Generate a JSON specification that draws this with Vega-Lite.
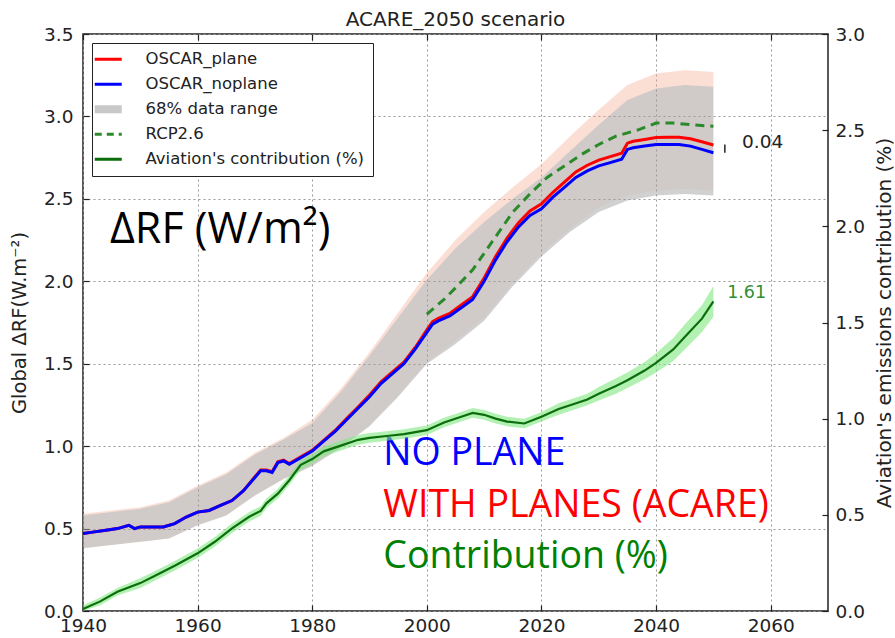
{
  "$schema": "https://vega.github.io/schema/vega-lite/v6.json",
  "width": 745,
  "height": 577,
  "autosize": "none",
  "padding": {"left": 83, "top": 34, "right": 67, "bottom": 27},
  "background": "white",
  "title": {"text": "ACARE_2050 scenario", "fontSize": 20, "font": "DejaVu Sans", "fontWeight": "normal", "color": "#222", "offset": -5, "anchor": "middle"},
  "config": {
    "view": {"stroke": "#222", "strokeWidth": 1.5},
    "font": "DejaVu Sans",
    "axis": {"domain": false, "tickSize": -6, "tickColor": "#222", "tickWidth": 1.2, "labelFlush": false, "labelFont": "DejaVu Sans", "labelFontSize": 18.5, "labelColor": "#222", "titleFont": "DejaVu Sans", "titleFontSize": 19.5, "titleFontWeight": "normal", "titleColor": "#222", "gridColor": "#999", "gridDash": [2, 3], "gridWidth": 1}
  },
  "datasets": {
    "rf": [
      {"year": 1940, "noplane": 0.47, "plane": 0.47},
      {"year": 1942, "noplane": 0.48, "plane": 0.48},
      {"year": 1944, "noplane": 0.49, "plane": 0.49},
      {"year": 1946, "noplane": 0.50, "plane": 0.50},
      {"year": 1948, "noplane": 0.52, "plane": 0.52},
      {"year": 1949, "noplane": 0.50, "plane": 0.50},
      {"year": 1950, "noplane": 0.51, "plane": 0.51},
      {"year": 1952, "noplane": 0.51, "plane": 0.51},
      {"year": 1954, "noplane": 0.51, "plane": 0.51},
      {"year": 1956, "noplane": 0.53, "plane": 0.53},
      {"year": 1958, "noplane": 0.57, "plane": 0.57},
      {"year": 1960, "noplane": 0.60, "plane": 0.60},
      {"year": 1962, "noplane": 0.61, "plane": 0.61},
      {"year": 1964, "noplane": 0.64, "plane": 0.64},
      {"year": 1966, "noplane": 0.67, "plane": 0.67},
      {"year": 1968, "noplane": 0.73, "plane": 0.73},
      {"year": 1970, "noplane": 0.81, "plane": 0.815},
      {"year": 1971, "noplane": 0.85, "plane": 0.855},
      {"year": 1972, "noplane": 0.85, "plane": 0.855},
      {"year": 1973, "noplane": 0.84, "plane": 0.845},
      {"year": 1974, "noplane": 0.9, "plane": 0.905},
      {"year": 1975, "noplane": 0.91, "plane": 0.915},
      {"year": 1976, "noplane": 0.89, "plane": 0.895},
      {"year": 1978, "noplane": 0.93, "plane": 0.935},
      {"year": 1980, "noplane": 0.97, "plane": 0.975},
      {"year": 1982, "noplane": 1.03, "plane": 1.035},
      {"year": 1984, "noplane": 1.09, "plane": 1.095},
      {"year": 1986, "noplane": 1.16, "plane": 1.167},
      {"year": 1988, "noplane": 1.23, "plane": 1.237},
      {"year": 1990, "noplane": 1.30, "plane": 1.31},
      {"year": 1992, "noplane": 1.38, "plane": 1.39},
      {"year": 1994, "noplane": 1.44, "plane": 1.45},
      {"year": 1996, "noplane": 1.50, "plane": 1.51},
      {"year": 1998, "noplane": 1.59, "plane": 1.60},
      {"year": 2000, "noplane": 1.69, "plane": 1.705},
      {"year": 2001, "noplane": 1.74, "plane": 1.755},
      {"year": 2002, "noplane": 1.76, "plane": 1.775},
      {"year": 2004, "noplane": 1.79, "plane": 1.805},
      {"year": 2006, "noplane": 1.84, "plane": 1.857},
      {"year": 2008, "noplane": 1.89, "plane": 1.907},
      {"year": 2010, "noplane": 2.00, "plane": 2.02},
      {"year": 2012, "noplane": 2.13, "plane": 2.15},
      {"year": 2014, "noplane": 2.24, "plane": 2.262},
      {"year": 2016, "noplane": 2.33, "plane": 2.355},
      {"year": 2018, "noplane": 2.40, "plane": 2.427},
      {"year": 2020, "noplane": 2.44, "plane": 2.47},
      {"year": 2022, "noplane": 2.51, "plane": 2.54},
      {"year": 2024, "noplane": 2.57, "plane": 2.602},
      {"year": 2026, "noplane": 2.63, "plane": 2.663},
      {"year": 2028, "noplane": 2.67, "plane": 2.704},
      {"year": 2030, "noplane": 2.70, "plane": 2.735},
      {"year": 2032, "noplane": 2.72, "plane": 2.756},
      {"year": 2034, "noplane": 2.74, "plane": 2.777},
      {"year": 2035, "noplane": 2.80, "plane": 2.838},
      {"year": 2036, "noplane": 2.81, "plane": 2.849},
      {"year": 2038, "noplane": 2.82, "plane": 2.86},
      {"year": 2040, "noplane": 2.83, "plane": 2.872},
      {"year": 2042, "noplane": 2.83, "plane": 2.873},
      {"year": 2044, "noplane": 2.83, "plane": 2.874},
      {"year": 2046, "noplane": 2.82, "plane": 2.865},
      {"year": 2048, "noplane": 2.80, "plane": 2.846},
      {"year": 2050, "noplane": 2.78, "plane": 2.827}
    ],
    "band": [
      {"year": 1940, "lo": 0.38, "hi": 0.58, "lop": 0.38, "hip": 0.59},
      {"year": 1945, "lo": 0.40, "hi": 0.60, "lop": 0.40, "hip": 0.61},
      {"year": 1950, "lo": 0.42, "hi": 0.62, "lop": 0.42, "hip": 0.63},
      {"year": 1955, "lo": 0.44, "hi": 0.66, "lop": 0.44, "hip": 0.67},
      {"year": 1960, "lo": 0.52, "hi": 0.75, "lop": 0.52, "hip": 0.76},
      {"year": 1965, "lo": 0.58, "hi": 0.83, "lop": 0.58, "hip": 0.84},
      {"year": 1970, "lo": 0.70, "hi": 0.95, "lop": 0.70, "hip": 0.96},
      {"year": 1975, "lo": 0.80, "hi": 1.04, "lop": 0.80, "hip": 1.05},
      {"year": 1980, "lo": 0.88, "hi": 1.14, "lop": 0.88, "hip": 1.16},
      {"year": 1985, "lo": 0.99, "hi": 1.33, "lop": 0.99, "hip": 1.35},
      {"year": 1990, "lo": 1.12, "hi": 1.55, "lop": 1.13, "hip": 1.57},
      {"year": 1995, "lo": 1.30, "hi": 1.78, "lop": 1.31, "hip": 1.81},
      {"year": 2000, "lo": 1.50, "hi": 2.01, "lop": 1.51, "hip": 2.05},
      {"year": 2005, "lo": 1.62, "hi": 2.20, "lop": 1.64, "hip": 2.25},
      {"year": 2010, "lo": 1.76, "hi": 2.36, "lop": 1.78, "hip": 2.42},
      {"year": 2015, "lo": 1.97, "hi": 2.50, "lop": 1.99, "hip": 2.57},
      {"year": 2020, "lo": 2.15, "hi": 2.63, "lop": 2.17, "hip": 2.71},
      {"year": 2025, "lo": 2.30, "hi": 2.79, "lop": 2.32, "hip": 2.88},
      {"year": 2030, "lo": 2.42, "hi": 2.95, "lop": 2.45, "hip": 3.04},
      {"year": 2035, "lo": 2.49, "hi": 3.10, "lop": 2.52, "hip": 3.19},
      {"year": 2040, "lo": 2.52, "hi": 3.17, "lop": 2.55, "hip": 3.26},
      {"year": 2045, "lo": 2.53, "hi": 3.19, "lop": 2.56, "hip": 3.28},
      {"year": 2050, "lo": 2.52, "hi": 3.18, "lop": 2.55, "hip": 3.27}
    ],
    "rcp": [
      {"year": 2000, "value": 1.80},
      {"year": 2003, "value": 1.89},
      {"year": 2005, "value": 1.96},
      {"year": 2008, "value": 2.07},
      {"year": 2010, "value": 2.17},
      {"year": 2012, "value": 2.27},
      {"year": 2015, "value": 2.42},
      {"year": 2018, "value": 2.53},
      {"year": 2021, "value": 2.63},
      {"year": 2024, "value": 2.70},
      {"year": 2027, "value": 2.77},
      {"year": 2030, "value": 2.83},
      {"year": 2033, "value": 2.88},
      {"year": 2037, "value": 2.92},
      {"year": 2040, "value": 2.96},
      {"year": 2043, "value": 2.96},
      {"year": 2046, "value": 2.95},
      {"year": 2050, "value": 2.94}
    ],
    "contrib": [
      {"year": 1940, "value": 0.01, "lo": 0.0, "hi": 0.03},
      {"year": 1943, "value": 0.05, "lo": 0.03, "hi": 0.07},
      {"year": 1946, "value": 0.10, "lo": 0.08, "hi": 0.12},
      {"year": 1950, "value": 0.145, "lo": 0.12, "hi": 0.17},
      {"year": 1953, "value": 0.19, "lo": 0.165, "hi": 0.215},
      {"year": 1956, "value": 0.235, "lo": 0.21, "hi": 0.26},
      {"year": 1960, "value": 0.30, "lo": 0.275, "hi": 0.325},
      {"year": 1963, "value": 0.36, "lo": 0.335, "hi": 0.385},
      {"year": 1966, "value": 0.43, "lo": 0.405, "hi": 0.455},
      {"year": 1969, "value": 0.49, "lo": 0.465, "hi": 0.515},
      {"year": 1971, "value": 0.52, "lo": 0.495, "hi": 0.545},
      {"year": 1972, "value": 0.56, "lo": 0.535, "hi": 0.585},
      {"year": 1974, "value": 0.61, "lo": 0.585, "hi": 0.635},
      {"year": 1976, "value": 0.68, "lo": 0.655, "hi": 0.705},
      {"year": 1978, "value": 0.76, "lo": 0.735, "hi": 0.785},
      {"year": 1980, "value": 0.79, "lo": 0.765, "hi": 0.815},
      {"year": 1982, "value": 0.83, "lo": 0.805, "hi": 0.855},
      {"year": 1985, "value": 0.86, "lo": 0.835, "hi": 0.885},
      {"year": 1988, "value": 0.89, "lo": 0.865, "hi": 0.915},
      {"year": 1990, "value": 0.90, "lo": 0.875, "hi": 0.925},
      {"year": 1993, "value": 0.91, "lo": 0.885, "hi": 0.935},
      {"year": 1996, "value": 0.92, "lo": 0.895, "hi": 0.945},
      {"year": 2000, "value": 0.94, "lo": 0.915, "hi": 0.965},
      {"year": 2003, "value": 0.98, "lo": 0.955, "hi": 1.005},
      {"year": 2006, "value": 1.01, "lo": 0.985, "hi": 1.035},
      {"year": 2008, "value": 1.03, "lo": 1.005, "hi": 1.055},
      {"year": 2010, "value": 1.02, "lo": 0.995, "hi": 1.045},
      {"year": 2012, "value": 1.00, "lo": 0.975, "hi": 1.025},
      {"year": 2014, "value": 0.985, "lo": 0.96, "hi": 1.01},
      {"year": 2017, "value": 0.975, "lo": 0.95, "hi": 1.0},
      {"year": 2020, "value": 1.01, "lo": 0.985, "hi": 1.035},
      {"year": 2023, "value": 1.05, "lo": 1.02, "hi": 1.08},
      {"year": 2025, "value": 1.07, "lo": 1.04, "hi": 1.10},
      {"year": 2028, "value": 1.10, "lo": 1.07, "hi": 1.13},
      {"year": 2030, "value": 1.13, "lo": 1.095, "hi": 1.165},
      {"year": 2033, "value": 1.17, "lo": 1.13, "hi": 1.21},
      {"year": 2035, "value": 1.20, "lo": 1.16, "hi": 1.24},
      {"year": 2038, "value": 1.25, "lo": 1.205, "hi": 1.295},
      {"year": 2040, "value": 1.29, "lo": 1.24, "hi": 1.34},
      {"year": 2043, "value": 1.36, "lo": 1.30, "hi": 1.42},
      {"year": 2045, "value": 1.425, "lo": 1.36, "hi": 1.49},
      {"year": 2048, "value": 1.52, "lo": 1.45, "hi": 1.59},
      {"year": 2050, "value": 1.61, "lo": 1.53, "hi": 1.69}
    ],
    "ann": [
      {"label": "ΔRF (W/m²)", "year": 1944.7, "value": 2.232},
      {"label": "NO PLANE", "year": 1992.4, "value": 0.885},
      {"label": "WITH PLANES (ACARE)", "year": 1992.4, "value": 0.572},
      {"label": "Contribution (%)", "year": 1992.4, "value": 0.259}
    ]
  },
  "layer": [
    {
      "layer": [
        {
          "data": {"name": "band"},
          "mark": {"type": "area", "color": "#f7a284", "opacity": 0.14},
          "encoding": {
            "x": {"field": "year", "type": "quantitative", "scale": {"domain": [1940, 2070], "nice": false, "zero": false},
                  "axis": {"values": [1940, 1960, 1980, 2000, 2020, 2040, 2060], "format": "d", "title": null, "grid": true, "labelPadding": 11}},
            "y": {"field": "lop", "type": "quantitative", "scale": {"domain": [0, 3.5], "nice": false},
                  "axis": {"values": [0, 0.5, 1, 1.5, 2, 2.5, 3, 3.5], "format": ".1f", "grid": true, "title": "Global ΔRF(W.m⁻²)", "labelPadding": 16, "titlePadding": 14}},
            "y2": {"field": "hip"}
          }
        },
        {
          "data": {"name": "band"},
          "mark": {"type": "area", "color": "#f5a88c", "opacity": 0.25},
          "encoding": {
            "x": {"field": "year", "type": "quantitative"},
            "y": {"field": "hi", "type": "quantitative"},
            "y2": {"field": "hip"}
          }
        },
        {
          "data": {"name": "band"},
          "mark": {"type": "area", "color": "#999999", "opacity": 0.45},
          "encoding": {
            "x": {"field": "year", "type": "quantitative"},
            "y": {"field": "lo", "type": "quantitative"},
            "y2": {"field": "hi"}
          }
        },
        {
          "data": {"name": "rf"},
          "mark": {"type": "line", "strokeWidth": 3},
          "encoding": {
            "x": {"field": "year", "type": "quantitative"},
            "y": {"field": "plane", "type": "quantitative"},
            "color": {"datum": "OSCAR_plane", "type": "nominal",
              "scale": {"domain": ["OSCAR_plane", "OSCAR_noplane", "68% data range", "RCP2.6", "Aviation's contribution (%)"],
                        "range": ["#ff0000", "#0000ff", "#c8c8c8", "#2a8a2a", "#0a6e0a"]},
              "legend": {"orient": "none", "legendX": 9, "legendY": 9, "title": null, "symbolType": "stroke", "symbolSize": 729, "symbolStrokeWidth": 3,
                "labelFontSize": 16.5, "labelFont": "DejaVu Sans", "labelColor": "#222", "labelLimit": 400, "strokeColor": "#222", "fillColor": "white", "padding": 8, "rowPadding": -8, "gridAlign": "all", "labelOffset": 29, "cornerRadius": 0,
                "encode": {"symbols": {"update": {"strokeDash": {"signal": "datum.value === 'RCP2.6' ? [7, 5] : [1, 0]"}, "strokeWidth": {"signal": "datum.value === '68% data range' ? 8 : 3"}}}}}
            }
          }
        },
        {
          "data": {"name": "rf"},
          "mark": {"type": "line", "strokeWidth": 3},
          "encoding": {
            "x": {"field": "year", "type": "quantitative"},
            "y": {"field": "noplane", "type": "quantitative"},
            "color": {"datum": "OSCAR_noplane", "type": "nominal"}
          }
        },
        {
          "data": {"name": "rcp"},
          "mark": {"type": "line", "strokeWidth": 3, "strokeDash": [9, 6]},
          "encoding": {
            "x": {"field": "year", "type": "quantitative"},
            "y": {"field": "value", "type": "quantitative"},
            "color": {"datum": "RCP2.6", "type": "nominal"}
          }
        },
        {
          "data": {"values": [{"year": 2052, "a": 2.78, "b": 2.83}]},
          "mark": {"type": "rule", "color": "#222", "strokeWidth": 1.5},
          "encoding": {
            "x": {"field": "year", "type": "quantitative"},
            "y": {"field": "a", "type": "quantitative"},
            "y2": {"field": "b"}
          }
        },
        {
          "data": {"values": [{"year": 2055, "value": 2.808, "label": "0.04"}]},
          "mark": {"type": "text", "align": "left", "baseline": "alphabetic", "fontSize": 18.5, "font": "DejaVu Sans", "color": "#222"},
          "encoding": {
            "x": {"field": "year", "type": "quantitative"},
            "y": {"field": "value", "type": "quantitative"},
            "text": {"field": "label"}
          }
        },
        {
          "data": {"name": "ann"},
          "transform": [{"filter": "datum.label === 'ΔRF (W/m²)'"}],
          "mark": {"type": "text", "align": "left", "baseline": "alphabetic", "fontSize": 43, "font": "Open Sans", "color": "#000"},
          "encoding": {
            "x": {"field": "year", "type": "quantitative"},
            "y": {"field": "value", "type": "quantitative"},
            "text": {"field": "label"}
          }
        },
        {
          "data": {"name": "ann"},
          "transform": [{"filter": "datum.label === 'NO PLANE'"}],
          "mark": {"type": "text", "align": "left", "baseline": "alphabetic", "fontSize": 37.5, "font": "Open Sans", "color": "#0000ff"},
          "encoding": {
            "x": {"field": "year", "type": "quantitative"},
            "y": {"field": "value", "type": "quantitative"},
            "text": {"field": "label"}
          }
        },
        {
          "data": {"name": "ann"},
          "transform": [{"filter": "datum.label === 'WITH PLANES (ACARE)'"}],
          "mark": {"type": "text", "align": "left", "baseline": "alphabetic", "fontSize": 37.5, "font": "Open Sans", "color": "#ff0000"},
          "encoding": {
            "x": {"field": "year", "type": "quantitative"},
            "y": {"field": "value", "type": "quantitative"},
            "text": {"field": "label"}
          }
        },
        {
          "data": {"name": "ann"},
          "transform": [{"filter": "datum.label === 'Contribution (%)'"}],
          "mark": {"type": "text", "align": "left", "baseline": "alphabetic", "fontSize": 37.5, "font": "Open Sans", "color": "#008000"},
          "encoding": {
            "x": {"field": "year", "type": "quantitative"},
            "y": {"field": "value", "type": "quantitative"},
            "text": {"field": "label"}
          }
        }
      ]
    },
    {
      "layer": [
        {
          "data": {"name": "contrib"},
          "mark": {"type": "area", "color": "#80e880", "opacity": 0.6},
          "encoding": {
            "x": {"field": "year", "type": "quantitative", "scale": {"domain": [1940, 2070], "nice": false, "zero": false},
                  "axis": {"orient": "top", "values": [1940, 1960, 1980, 2000, 2020, 2040, 2060], "labels": false, "title": null, "grid": false}},
            "y": {"field": "lo", "type": "quantitative", "scale": {"domain": [0, 3], "nice": false},
                  "axis": {"orient": "right", "values": [0, 0.5, 1, 1.5, 2, 2.5, 3], "format": ".1f", "grid": false, "title": "Aviation's emissions contribution (%)", "titleFontSize": 20, "titleAngle": 270, "labelPadding": 13, "titlePadding": 30}},
            "y2": {"field": "hi"}
          }
        },
        {
          "data": {"name": "contrib"},
          "mark": {"type": "line", "strokeWidth": 2.2},
          "encoding": {
            "x": {"field": "year", "type": "quantitative"},
            "y": {"field": "value", "type": "quantitative"},
            "color": {"datum": "Aviation's contribution (%)", "type": "nominal"}
          }
        },
        {
          "data": {"values": [{"year": 2052.4, "value": 1.628, "label": "1.61"}]},
          "mark": {"type": "text", "align": "left", "baseline": "alphabetic", "fontSize": 17.5, "font": "DejaVu Sans", "color": "#2f8f2f"},
          "encoding": {
            "x": {"field": "year", "type": "quantitative"},
            "y": {"field": "value", "type": "quantitative"},
            "text": {"field": "label"}
          }
        }
      ]
    }
  ],
  "resolve": {"scale": {"y": "independent"}, "axis": {"x": "independent"}}
}
